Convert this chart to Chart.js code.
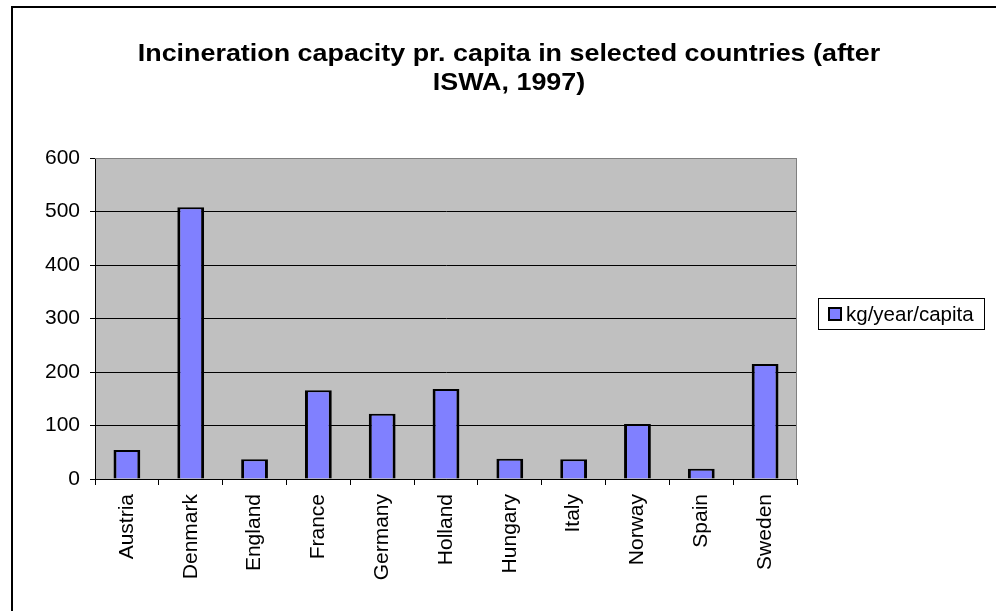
<!DOCTYPE html>
<html>
<head>
<meta charset="utf-8">
<script src="https://cdn.jsdelivr.net/npm/chart.js@4/dist/chart.umd.min.js"></script>
<style>
  html, body { margin: 0; padding: 0; background: #fff; }
  canvas { display: block; }
</style>
</head>
<body>
<canvas id="chart" width="996" height="611"></canvas>
<script>
// Incineration capacity, kg per year per capita (ISWA, 1997)
const countries = ['Austria', 'Denmark', 'England', 'France', 'Germany', 'Holland',
                   'Hungary', 'Italy', 'Norway', 'Spain', 'Sweden'];
const capacity = [54, 508, 37, 166, 122, 168, 38, 37, 103, 19, 215];
const seriesName = 'kg/year/capita';
const yTicks = [0, 100, 200, 300, 400, 500, 600];
const titleLines = ['Incineration capacity pr. capita in selected countries (after', 'ISWA, 1997)'];

const FONT = '"Liberation Sans", Arial, sans-serif';
const BAR_FILL = '#8080ff';

// Grey plot background, grey top/right border, outer frame, title and legend
const decorations = {
  id: 'decorations',
  beforeDraw(chart) {
    const { ctx, chartArea: a } = chart;
    ctx.save();
    ctx.fillStyle = '#c0c0c0';
    ctx.fillRect(a.left, a.top, a.right - a.left, a.bottom - a.top);
    ctx.restore();
  },
  beforeDatasetsDraw(chart) {
    const { ctx, chartArea: a } = chart;
    ctx.save();
    ctx.strokeStyle = '#808080';
    ctx.lineWidth = 1;
    ctx.beginPath();
    ctx.moveTo(a.left, a.top + 0.5);
    ctx.lineTo(a.right - 0.5, a.top + 0.5);
    ctx.lineTo(a.right - 0.5, a.bottom);
    ctx.stroke();
    ctx.restore();
  },
  afterDraw(chart) {
    const { ctx } = chart;
    ctx.save();
    // outer frame
    ctx.strokeStyle = '#000';
    ctx.lineWidth = 2;
    ctx.strokeRect(12, 7, 1200, 1200);

    // title (slightly widened bold face)
    ctx.save();
    ctx.fillStyle = '#000';
    ctx.font = 'bold 24px ' + FONT;
    ctx.textAlign = 'center';
    ctx.textBaseline = 'alphabetic';
    ctx.translate(509, 0);
    ctx.scale(1.12, 1);
    ctx.fillText(titleLines[0], 0, 61);
    ctx.fillText(titleLines[1], 0, 90);
    ctx.restore();

    // legend
    const ds = chart.data.datasets[0];
    ctx.lineWidth = 1;
    ctx.strokeStyle = '#000';
    ctx.fillStyle = '#fff';
    ctx.fillRect(818.5, 298.5, 166, 31);
    ctx.strokeRect(818.5, 298.5, 166, 31);
    ctx.fillStyle = ds.backgroundColor;
    ctx.fillRect(828.5, 307.5, 13, 13);
    ctx.lineWidth = 2;
    ctx.strokeRect(829, 308, 12, 12);
    ctx.fillStyle = '#000';
    ctx.font = '20.5px ' + FONT;
    ctx.textAlign = 'left';
    ctx.fillText(ds.label, 846, 321);
    ctx.restore();
  }
};

new Chart(document.getElementById('chart'), {
  type: 'bar',
  data: {
    labels: countries,
    datasets: [{
      label: seriesName,
      data: capacity,
      backgroundColor: BAR_FILL,
      borderColor: '#000',
      borderWidth: { top: 2, left: 3, right: 3, bottom: 0 },
      borderSkipped: 'start',
      barPercentage: 0.42,
      categoryPercentage: 1.0
    }]
  },
  options: {
    responsive: false,
    animation: false,
    devicePixelRatio: 1,
    layout: { padding: { top: 158, right: 199, bottom: 0, left: 0 } },
    plugins: {
      legend: { display: false },
      title: { display: false },
      tooltip: { enabled: false }
    },
    scales: {
      x: {
        afterFit(scale) { scale.height = 132; },
        grid: {
          offset: true,
          drawOnChartArea: false,
          drawTicks: true,
          tickLength: 6,
          color: '#000',
          tickColor: '#000'
        },
        border: { display: true, color: '#000', width: 1 },
        ticks: {
          minRotation: 90,
          maxRotation: 90,
          autoSkip: false,
          padding: 9,
          color: '#000',
          font: { family: FONT, size: 21 }
        }
      },
      y: {
        min: 0,
        max: 600,
        afterFit(scale) { scale.width = 95; },
        afterBuildTicks(scale) { scale.ticks = yTicks.map(v => ({ value: v })); },
        grid: {
          color: (c) => (c.tick && c.tick.value === 600 ? '#808080' : '#000'),
          tickColor: '#000',
          tickLength: 5,
          lineWidth: 1
        },
        border: { display: true, color: '#000', width: 1 },
        ticks: {
          padding: 10,
          color: '#000',
          font: { family: FONT, size: 21 }
        }
      }
    }
  },
  plugins: [decorations]
});
</script>
</body>
</html>
